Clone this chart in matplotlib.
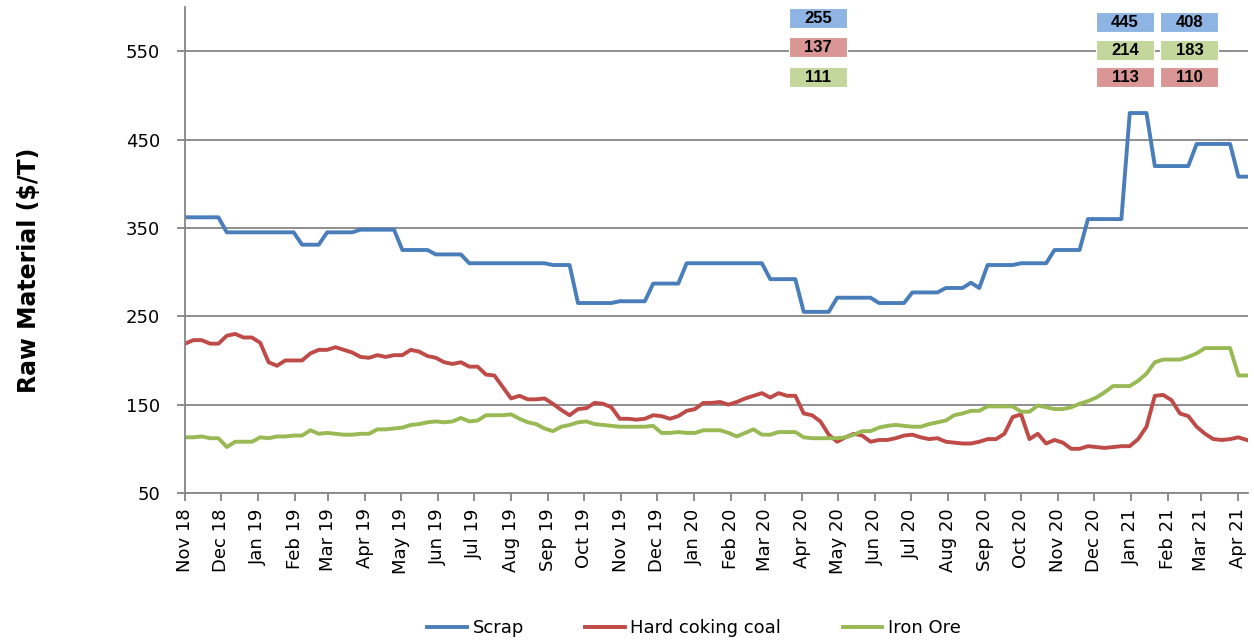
import numpy as np
import pandas as pd
import matplotlib
matplotlib.use('Agg')
import matplotlib.pyplot as plt
import matplotlib.patches as patches
import matplotlib.transforms as transforms
import matplotlib.dates as mdates

# ----------------------------------------------------------------
# données hebdo

weeks = pd.date_range('2018-11-01', periods=128, freq='7D')

scrap = [362, 362, 362, 362, 362, 345, 345, 345, 345, 345,
         345, 345, 345, 345, 331, 331, 331, 345, 345, 345,
         345, 348, 348, 348, 348, 348, 325, 325, 325, 325,
         320, 320, 320, 320, 310, 310, 310, 310, 310, 310,
         310, 310, 310, 310, 308, 308, 308, 265, 265, 265,
         265, 265, 267, 267, 267, 267, 287, 287, 287, 287,
         310, 310, 310, 310, 310, 310, 310, 310, 310, 310,
         292, 292, 292, 292, 255, 255, 255, 255, 271, 271,
         271, 271, 271, 265, 265, 265, 265, 277, 277, 277,
         277, 282, 282, 282, 288, 282, 308, 308, 308, 308,
         310, 310, 310, 310, 325, 325, 325, 325, 360, 360,
         360, 360, 360, 480, 480, 480, 420, 420, 420, 420,
         420, 445, 445, 445, 445, 445, 408, 408]

coal = [219, 223, 223, 219, 219, 228, 230, 226, 226, 220,
        198, 194, 200, 200, 200, 208, 212, 212, 215, 212,
        209, 204, 203, 206, 204, 206, 206, 212, 210, 205,
        203, 198, 196, 198, 193, 193, 184, 183, 170, 157,
        160, 156, 156, 157, 151, 144, 138, 145, 146, 152,
        151, 147, 134, 134, 133, 134, 138, 137, 134, 137,
        143, 145, 152, 152, 153, 150, 153, 157, 160, 163,
        158, 163, 160, 160, 140, 138, 131, 116, 108, 113,
        117, 115, 108, 110, 110, 112, 115, 116, 113, 111,
        112, 108, 107, 106, 106, 108, 111, 111, 117, 136,
        139, 111, 117, 106, 110, 107, 100, 100, 103, 102,
        101, 102, 103, 103, 111, 125, 160, 161, 155, 140,
        137, 125, 117, 111, 110, 111, 113, 110]

iron_ore = [113, 113, 114, 112, 112, 102, 108, 108, 108, 113,
            112, 114, 114, 115, 115, 121, 117, 118, 117, 116,
            116, 117, 117, 122, 122, 123, 124, 127, 128, 130,
            131, 130, 131, 135, 131, 132, 138, 138, 138, 139,
            134, 130, 128, 123, 120, 125, 127, 130, 131, 128,
            127, 126, 125, 125, 125, 125, 126, 118, 118, 119,
            118, 118, 121, 121, 121, 118, 114, 118, 122, 116,
            116, 119, 119, 119, 113, 112, 112, 112, 112, 113,
            116, 120, 120, 124, 126, 127, 126, 125, 125, 128,
            130, 132, 138, 140, 143, 143, 148, 148, 148, 148,
            142, 142, 149, 147, 145, 145, 147, 151, 154, 158,
            164, 171, 171, 171, 177, 185, 198, 201, 201, 201,
            204, 208, 214, 214, 214, 214, 183, 183]

month_ticks = pd.date_range('2018-11-01', '2021-04-01', freq='MS')
month_labels = ['Nov 18', 'Dec 18', 'Jan 19', 'Feb 19', 'Mar 19', 'Apr 19',
                'May 19', 'Jun 19', 'Jul 19', 'Aug 19', 'Sep 19', 'Oct 19',
                'Nov 19', 'Dec 19', 'Jan 20', 'Feb 20', 'Mar 20', 'Apr 20',
                'May 20', 'Jun 20', 'Jul 20', 'Aug 20', 'Sep 20', 'Oct 20',
                'Nov 20', 'Dec 20', 'Jan 21', 'Feb 21', 'Mar 21', 'Apr 21']

# étiquettes encadrées en haut du graphe
box_apr20 = ['255', '137', '111']
box_jan21 = ['445', '214', '113']
box_feb21 = ['408', '183', '110']

# ----------------------------------------------------------------
# couleurs

cBlue, cRed, cGreen = '#4A7EBB', '#BE4B48', '#98B954'
lBlue, lRed, lGreen = '#8EB4E3', '#D99694', '#C3D69B'
cGrid = '#868686'

# ----------------------------------------------------------------
# plot

fig = plt.figure(figsize=(12.54, 6.41), dpi=100)
W, H = 1254., 641.
ax = fig.add_axes([185/W, 1 - 493/H, (1248 - 185)/W, (493 - 7)/H])

ax.plot(weeks, scrap, color=cBlue, lw=2.8, label='Scrap', solid_joinstyle='round')
ax.plot(weeks, coal, color=cRed, lw=2.8, label='Hard coking coal', solid_joinstyle='round')
ax.plot(weeks, iron_ore, color=cGreen, lw=2.8, label='Iron Ore', solid_joinstyle='round')

ax.set_ylim(50, 600)
ax.set_yticks([50, 150, 250, 350, 450, 550])
ax.yaxis.grid(True, color=cGrid, lw=1.3)
ax.set_axisbelow(True)
ax.set_xlim(weeks[0], weeks[-1] + pd.Timedelta(days=1))
ax.set_xticks(month_ticks)
ax.set_xticklabels(month_labels, rotation=90)

for s in ['top', 'right']:
    ax.spines[s].set_visible(False)
for s in ['left', 'bottom']:
    ax.spines[s].set_color(cGrid)
    ax.spines[s].set_linewidth(1.3)
ax.tick_params(axis='both', colors=cGrid, width=1.3, length=6, labelcolor='black', labelsize=13)
ax.tick_params(axis='y', pad=12)
ax.tick_params(axis='x', pad=5)

fig.text(29/W, 1 - 270/H, 'Raw Material ($/T)', rotation=90, fontsize=17,
         fontweight='bold', ha='center', va='center')

# boîtes de 58x20 px centrées sur (date, valeur)
def put_boxes(date, texts, ys, colors):
    xd = mdates.date2num(pd.Timestamp(date))
    for t, y, c in zip(texts, ys, colors):
        tr = fig.dpi_scale_trans + transforms.ScaledTranslation(xd, y, ax.transData)
        ax.add_patch(patches.Rectangle((-0.29, -0.10), 0.58, 0.20, transform=tr,
                                       fc=c, ec='white', lw=0.8, zorder=5, clip_on=False))
        ax.text(xd, y, t, ha='center', va='center', fontsize=12, fontweight='bold',
                family='Liberation Sans', zorder=6, clip_on=False)

put_boxes('2020-04-14', box_apr20, [587, 554.5, 520.6], [lBlue, lRed, lGreen])
put_boxes('2020-12-27', box_jan21, [582.8, 551, 520.6], [lBlue, lGreen, lRed])
put_boxes('2021-02-19', box_feb21, [582.8, 551, 520.6], [lBlue, lGreen, lRed])

fig.legend(loc='center', bbox_to_anchor=(694/W, 1 - 628/H), ncol=3, frameon=False,
           fontsize=13, handlelength=2.2, handletextpad=0.3, columnspacing=3.4)

plt.savefig('out.png', dpi=100)
